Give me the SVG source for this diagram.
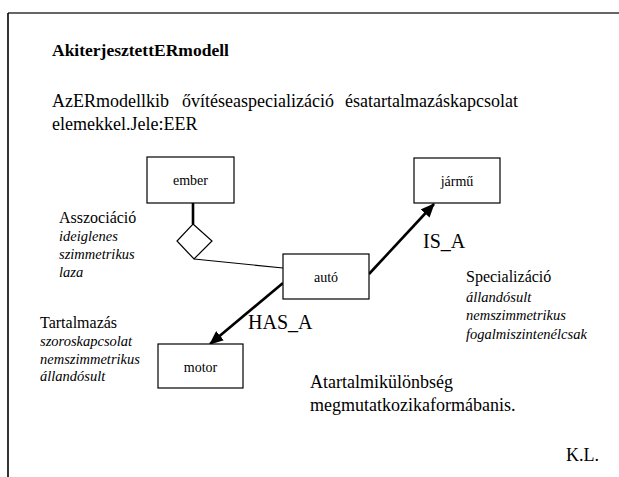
<svg xmlns="http://www.w3.org/2000/svg" width="619" height="477" viewBox="0 0 619 477">
  <style>
    text { font-family: "Liberation Serif", "Times New Roman", serif; fill: #000; }
    .title { font-size: 17.5px; font-weight: bold; }
    .body { font-size: 18px; }
    .head { font-size: 16px; }
    .note { font-size: 14.5px; font-style: italic; }
    .rel { font-size: 20px; }
    .lbl { font-size: 14px; text-anchor: middle; }
    .box { fill: #fff; stroke: #000; stroke-width: 1.2; }
    .thick { stroke: #000; stroke-width: 2.6; fill: none; }
    .thin { stroke: #000; stroke-width: 1.2; fill: none; }
  </style>
  <defs>
    <marker id="arrow" viewBox="0 0 14 12" refX="13" refY="6" markerWidth="14" markerHeight="12" markerUnits="userSpaceOnUse" orient="auto">
      <path d="M0,0 L14,6 L0,12 z" fill="#000"/>
    </marker>
  </defs>

  <rect width="619" height="477" fill="#fff"/>

  <!-- slide frame -->
  <g id="frame">
    <line x1="8" y1="13" x2="619" y2="13" stroke="#333" stroke-width="1.5"/>
    <line x1="8" y1="13" x2="8" y2="477" stroke="#000" stroke-width="1.6"/>
  </g>

  <!-- heading and intro text -->
  <g id="header">
    <text class="title" x="52" y="56">AkiterjesztettERmodell</text>
    <text class="body" y="107"><tspan x="52">AzERmodellkib</tspan><tspan x="182">ővítéseaspecializáció</tspan><tspan x="345">ésatartalmazáskapcsolat</tspan></text>
    <text class="body" x="52" y="130">elemekkel.Jele:EER</text>
  </g>

  <!-- connectors -->
  <g id="connectors">
    <line class="thick" x1="193" y1="203" x2="193" y2="224"/>
    <line class="thin" x1="194" y1="259" x2="283" y2="268"/>
    <line class="thick" x1="369" y1="274" x2="434" y2="204" marker-end="url(#arrow)"/>
    <line class="thick" x1="283" y1="283" x2="210" y2="344" marker-end="url(#arrow)"/>
  </g>

  <!-- association diamond -->
  <g id="assoc">
    <polygon class="thin" points="193,224 212,241 194,259 177,241" fill="#fff"/>
  </g>

  <!-- entities -->
  <g id="ember">
    <rect class="box" x="147" y="157" width="87" height="46"/>
    <text class="lbl" x="190.5" y="185">ember</text>
  </g>
  <g id="jarmu">
    <rect class="box" x="414" y="158" width="86" height="45"/>
    <text class="lbl" x="457" y="186">jármű</text>
  </g>
  <g id="auto">
    <rect class="box" x="283" y="254" width="86" height="45"/>
    <text class="lbl" x="326" y="282">autó</text>
  </g>
  <g id="motor">
    <rect class="box" x="158" y="344" width="85" height="44"/>
    <text class="lbl" x="200.5" y="372">motor</text>
  </g>

  <!-- relationship labels -->
  <g id="labels">
    <text class="rel" x="423" y="248">IS_A</text>
    <text class="rel" x="248" y="329">HAS_A</text>
  </g>

  <!-- explanatory notes -->
  <g id="note-assoc">
    <text class="head" x="59" y="223">Asszociáció</text>
    <text class="note" x="59" y="241">ideiglenes</text>
    <text class="note" x="59" y="259">szimmetrikus</text>
    <text class="note" x="59" y="277">laza</text>
  </g>
  <g id="note-spec">
    <text class="head" x="466" y="282">Specializáció</text>
    <text class="note" x="466" y="302">állandósult</text>
    <text class="note" x="466" y="320">nemszimmetrikus</text>
    <text class="note" x="466" y="339">fogalmiszintenélcsak</text>
  </g>
  <g id="note-cont">
    <text class="head" x="40" y="328">Tartalmazás</text>
    <text class="note" x="40" y="346">szoroskapcsolat</text>
    <text class="note" x="40" y="364">nemszimmetrikus</text>
    <text class="note" x="40" y="381">állandósult</text>
  </g>

  <g id="summary">
    <text class="body" x="310" y="388">Atartalmikülönbség</text>
    <text class="body" x="310" y="411">megmutatkozikaformábanis.</text>
  </g>

  <g id="author">
    <text class="body" x="566" y="461">K.L.</text>
  </g>
</svg>
